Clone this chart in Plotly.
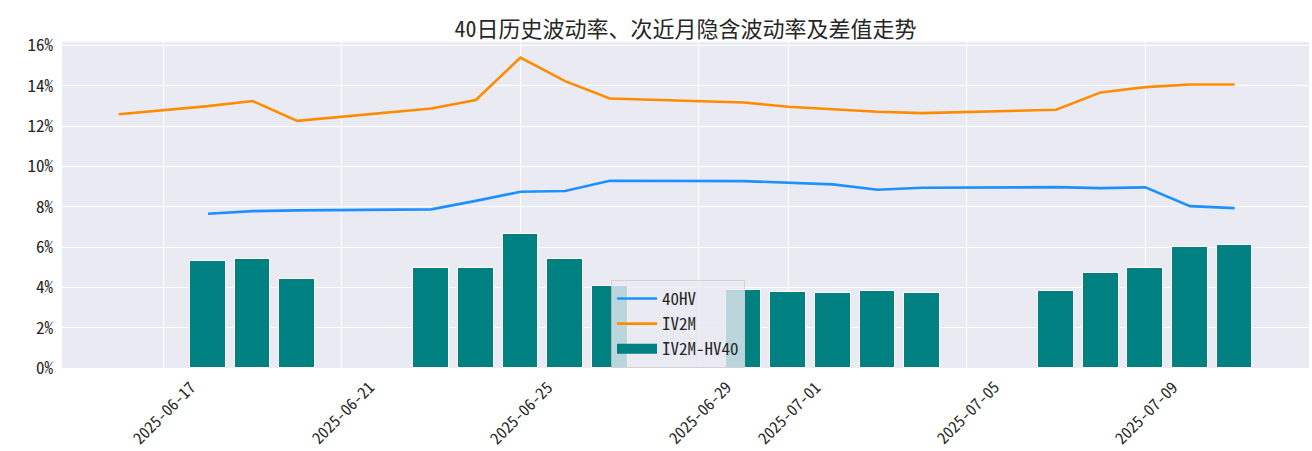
import plotly.graph_objects as go

# ---- data (percent) ----
iv_dates = ["2025-06-16", "2025-06-17", "2025-06-18", "2025-06-19", "2025-06-20",
            "2025-06-23", "2025-06-24", "2025-06-25", "2025-06-26", "2025-06-27",
            "2025-06-30", "2025-07-01", "2025-07-02", "2025-07-03", "2025-07-04",
            "2025-07-07", "2025-07-08", "2025-07-09", "2025-07-10", "2025-07-11"]
iv2m = [12.59, 12.79, 12.99, 13.24, 12.26,
        12.87, 13.29, 15.40, 14.23, 13.37,
        13.17, 12.96, 12.84, 12.71, 12.64,
        12.81, 13.67, 13.93, 14.06, 14.06]

hv_dates = iv_dates[2:]
hv40 = [7.65, 7.78, 7.82,
        7.87, 8.29, 8.74, 8.78, 9.29,
        9.27, 9.19, 9.11, 8.84, 8.94,
        8.97, 8.92, 8.96, 8.03, 7.93]

spread = [5.30, 5.43, 4.42,
          4.96, 4.94, 6.63, 5.42, 4.06,
          3.87, 3.77, 3.72, 3.83, 3.70,
          3.80, 4.71, 4.96, 5.99, 6.09]

xtick_vals = ["2025-06-17", "2025-06-21", "2025-06-25", "2025-06-29",
              "2025-07-01", "2025-07-05", "2025-07-09"]
ytick_vals = [0, 2, 4, 6, 8, 10, 12, 14, 16]
ytick_text = ["0%", "2%", "4%", "6%", "8%", "10%", "12%", "14%", "16%"]

title = "40日历史波动率、次近月隐含波动率及差值走势"
FONT = "Noto Sans Mono CJK SC, Noto Sans CJK SC, sans-serif"
TXT = "#262626"
TEAL = "#008080"

fig = go.Figure()
fig.add_trace(go.Scatter(x=hv_dates, y=hv40, mode="lines", name="40HV",
                         line=dict(color="#1E90FF", width=2.6)))
fig.add_trace(go.Scatter(x=iv_dates, y=iv2m, mode="lines", name="IV2M",
                         line=dict(color="#FF8C00", width=2.6)))
fig.add_trace(go.Bar(x=hv_dates, y=spread, name="IV2M-HV40", showlegend=False,
                     width=0.8 * 86400000,
                     marker=dict(color=TEAL, line=dict(color="white", width=1))))
# legend-only entry drawn as a wide rectangle like matplotlib's patch handle
fig.add_trace(go.Scatter(x=[None], y=[None], mode="lines", name="IV2M-HV40",
                         line=dict(color=TEAL, width=12)))

# rotated date labels centred on ticks (matplotlib style)
for d in xtick_vals:
    fig.add_annotation(x=d, y=0, xref="x", yref="paper", text=d, showarrow=False,
                       textangle=-45, xanchor="center", yanchor="top", yshift=-4,
                       font=dict(family=FONT, size=16, color=TXT))

fig.update_layout(
    width=1312, height=451,
    margin=dict(l=62, r=3, t=42, b=83),
    paper_bgcolor="white", plot_bgcolor="#EAEAF2",
    title=dict(text=title, x=(62 + 1309) / 2 / 1312, xanchor="center",
               y=1 - 29 / 451, yanchor="middle", yref="container",
               font=dict(family=FONT, size=22, color=TXT)),
    showlegend=True,
    legend=dict(x=(611 - 62) / 1247, y=(368 - 280) / 326, xanchor="left", yanchor="top",
                bgcolor="rgba(234,234,242,0.8)", bordercolor="rgba(204,204,204,0.8)",
                borderwidth=1, font=dict(family=FONT, size=17, color=TXT),
                tracegroupgap=0, itemwidth=40),
    bargap=0,
)
fig.update_xaxes(type="date", range=["2025-06-14 17:30", "2025-07-12 16:00"],
                 tickvals=xtick_vals, showticklabels=False,
                 showgrid=True, gridcolor="white", gridwidth=1, zeroline=False,
                 showline=False)
fig.update_yaxes(range=[0, 16.17], tickvals=ytick_vals, ticktext=ytick_text,
                 showgrid=True, gridcolor="white", gridwidth=1, zeroline=False,
                 showline=False, ticks="", ticklabelstandoff=8,
                 tickfont=dict(family=FONT, size=17, color=TXT))

fig.write_html("out.html", config={"displayModeBar": False},
               post_script="document.body.style.margin='0';")
